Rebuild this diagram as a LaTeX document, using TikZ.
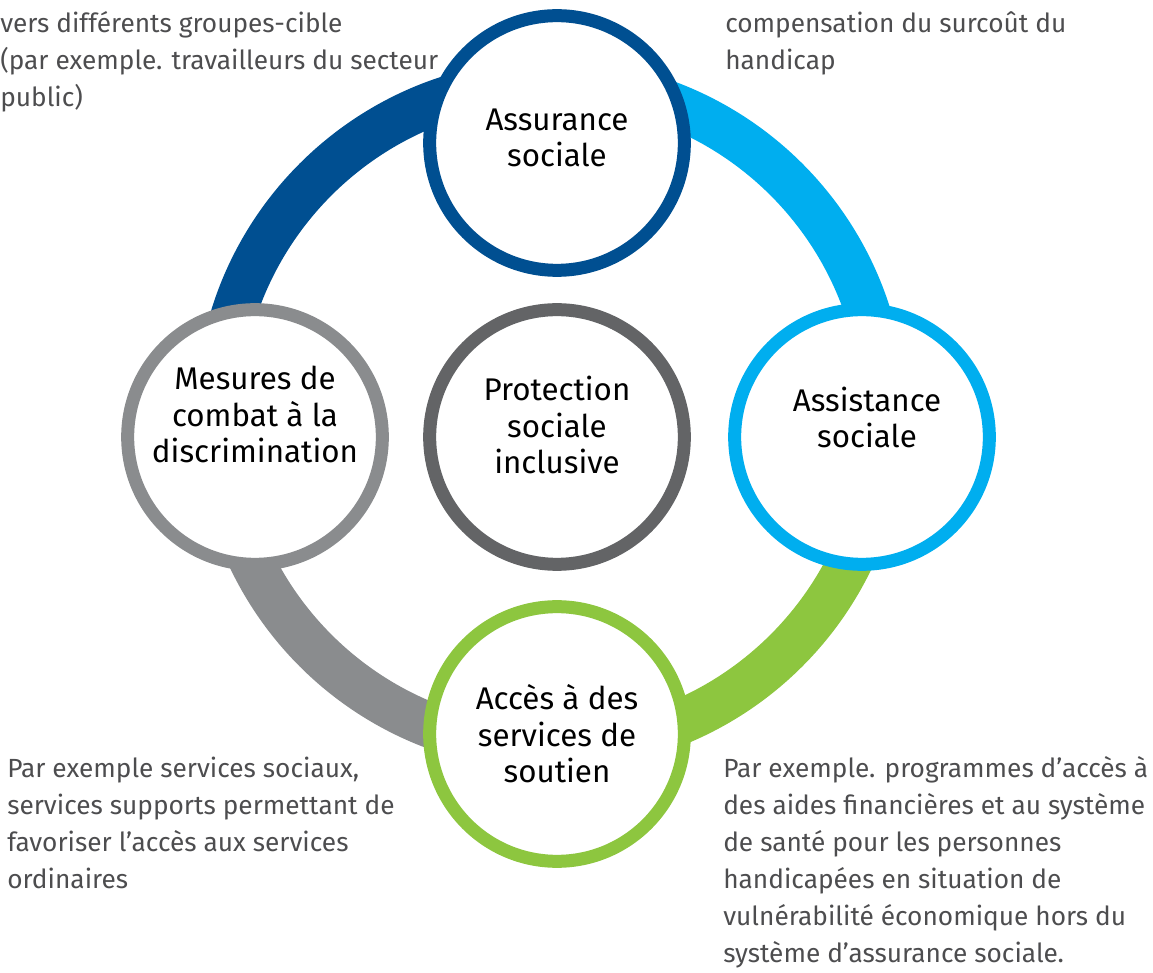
\documentclass[tikz,border=0pt]{standalone}
\usepackage{fontspec}
\setmainfont{Fira Sans}
\usetikzlibrary{positioning}
\definecolor{assurblue}{HTML}{004F91}
\definecolor{assistblue}{HTML}{00AEEF}
\definecolor{accesgreen}{HTML}{8DC63F}
\definecolor{mesuregray}{HTML}{8A8C8E}
\definecolor{protgray}{HTML}{636466}
\definecolor{notegray}{HTML}{4D4D4F}
\tikzset{%
  % Styles for the circles and their texts:
       pillar/.style = {circle, line width=9.75pt, fill=white,
                        minimum size=191pt, inner sep=0pt},
      caption/.style = {align=center, text=black, inner sep=0pt,
                        font=\fontsize{23.5}{27.4}\selectfont},
  % wide bands of the outer ring
         band/.style = {line width=33.75pt},
  % side notes (anchored on the baseline of their last line)
         note/.style = {align=left, anchor=base west, inner sep=0pt, text=notegray,
                        font=\fontsize{19.7}{27.75}\selectfont}
}

\begin{document}
\begin{tikzpicture}[x=0.75pt, y=0.75pt, node distance=225pt]
  \useasboundingbox (0,0) rectangle (1153,972);

  % Outer ring, one coloured quarter per pillar
  \coordinate (hub) at (551,557);
  \draw[band, assurblue]  ([shift={(180:249.75pt)}]hub) arc[start angle=180, end angle=90, radius=249.75pt];
  \draw[band, assistblue] ([shift={(90:249.75pt)}]hub) arc[start angle=90, end angle=0, radius=249.75pt];
  \draw[band, accesgreen] ([shift={(0:249.75pt)}]hub) arc[start angle=0, end angle=-90, radius=249.75pt];
  \draw[band, mesuregray] ([shift={(-90:249.75pt)}]hub) arc[start angle=-90, end angle=-180, radius=249.75pt];

  % Specification of circles (position, etc.)
  \node (protection) [pillar, draw=protgray] at (557,535) {};
  \node (assurance)  [pillar, draw=assurblue, above of=protection, yshift=-4.5pt] {};
  \node (mesures)    [pillar, draw=mesuregray, left of=protection, xshift=-1.5pt] {};
  \node (assistance) [pillar, draw=assistblue, right of=protection, xshift=3.75pt] {};
  \node (acces)      [pillar, draw=accesgreen, below of=protection, yshift=2.25pt] {};

  % Texts inside the circles
  \node (protection-t) [caption] at ([yshift=9pt]protection) {Protection\\sociale\\inclusive};
  \node (assurance-t)  [caption] at ([yshift=3.75pt]assurance) {Assurance\\sociale};
  \node (mesures-t)    [caption] at ([yshift=16.9pt]mesures) {Mesures de\\combat à la\\discrimination};
  \node (assistance-t) [caption] at ([xshift=3.75pt, yshift=14.6pt]assistance) {Assistance\\sociale};
  \node (acces-t)      [caption] at (acces) {Accès à des\\services de\\soutien};

  % Notes around the ring
  \node (note-assurance)  [note] at (0,865)   {vers différents groupes-cible\\(par exemple. travailleurs du secteur\\public)};
  \node (note-assistance) [note] at (725,902) {compensation du surcoût du\\handicap};
  \node (note-mesures)    [note] at (7,84)    {Par exemple services sociaux,\\services supports permettant de\\favoriser l’accès aux services\\ordinaires};
  \node (note-acces)      [note] at (723,10)  {Par exemple. programmes d’accès à\\des aides financières et au système\\de santé pour les personnes\\handicapées en situation de\\vulnérabilité économique hors du\\système d’assurance sociale.};
\end{tikzpicture}
\end{document}
